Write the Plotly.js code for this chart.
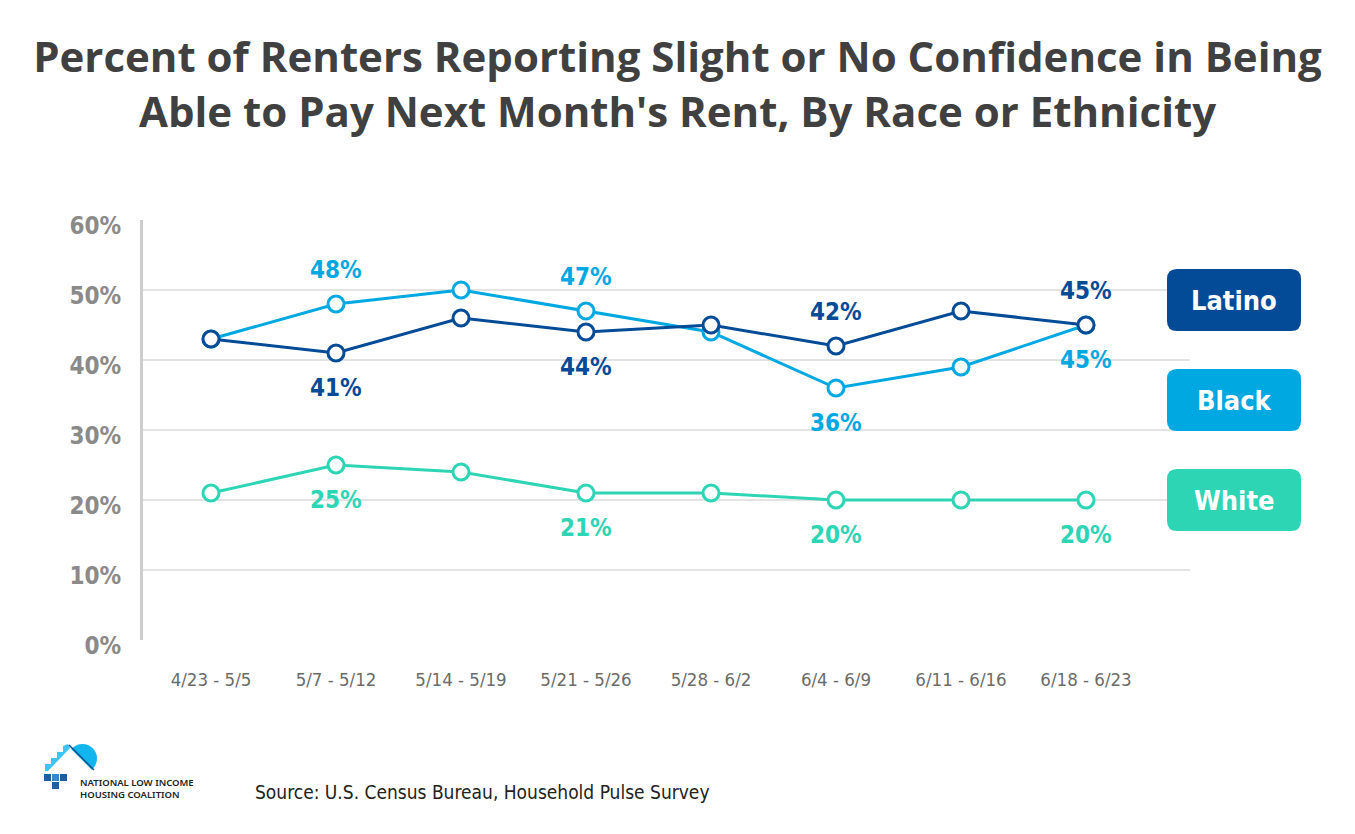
<!DOCTYPE html>
<html><head><meta charset="utf-8">
<script src="https://cdn.plot.ly/plotly-3.0.1.min.js"></script>
<style>html,body{margin:0;padding:0;background:#fff}#chart{width:1355px;height:834px}</style>
</head><body><div id="chart"></div>
<script>
// ---- data ----
const periods = ['4/23 - 5/5','5/7 - 5/12','5/14 - 5/19','5/21 - 5/26','5/28 - 6/2','6/4 - 6/9','6/11 - 6/16','6/18 - 6/23'];
const latino = [43,41,46,44,45,42,47,45];
const black  = [43,48,50,47,44,36,39,45];
const white  = [21,25,24,21,21,20,20,20];
const latinoLabelIdx = [1,3,5,7];
const latinoLabelSide = ['below','below','above','above'];
const blackLabelIdx = [1,3,5,7];
const blackLabelSide = ['above','above','below','below'];
const whiteLabelIdx = [1,3,5,7];
const whiteLabelSide = ['below','below','below','below'];
const seriesNames = ['Latino','Black','White'];
const yTicks = [0,10,20,30,40,50,60];
const titleText = "Percent of Renters Reporting Slight or No Confidence in Being<br>Able to Pay Next Month's Rent, By Race or Ethnicity";
const sourceText = 'Source: U.S. Census Bureau, Household Pulse Survey';
const logoLines = ['NATIONAL LOW INCOME','HOUSING COALITION'];

// ---- styling ----
const colors = {Latino:'#034b97', Black:'#00a8e1', White:'#2ed5b5'};
const NARROW = "'Liberation Sans Narrow', 'DejaVu Sans Condensed', 'Arial Narrow', sans-serif";
const W = 1355, H = 834;
const M = {l:143, r:165, t:220, b:194};
const PW = W - M.l - M.r, PH = H - M.t - M.b;
const X = px => (px - M.l) / PW;
const Y = py => (H - M.b - py) / PH;
const P = (x,y) => X(x).toFixed(5) + ',' + Y(y).toFixed(5);

function roundRect(x0,y0,x1,y1,r){
  return 'M' + P(x0+r,y0) + ' L' + P(x1-r,y0) + ' Q' + P(x1,y0) + ' ' + P(x1,y0+r) +
    ' L' + P(x1,y1-r) + ' Q' + P(x1,y1) + ' ' + P(x1-r,y1) +
    ' L' + P(x0+r,y1) + ' Q' + P(x0,y1) + ' ' + P(x0,y1-r) +
    ' L' + P(x0,y0+r) + ' Q' + P(x0,y0) + ' ' + P(x0+r,y0) + ' Z';
}
function poly(pts){ return 'M' + pts.map(p => P(p[0],p[1])).join(' L') + ' Z'; }

const series = [
  {name:'White', y:white, idx:whiteLabelIdx, side:whiteLabelSide},
  {name:'Black', y:black, idx:blackLabelIdx, side:blackLabelSide},
  {name:'Latino', y:latino, idx:latinoLabelIdx, side:latinoLabelSide}
];

const traces = series.map(s => ({
  type:'scatter', mode:'lines+markers', name:s.name,
  x:periods, y:s.y,
  line:{color:colors[s.name], width:3},
  marker:{symbol:'circle', size:16, color:'#ffffff', line:{color:colors[s.name], width:3}},
  cliponaxis:false, hoverinfo:'skip'
}));

const annotations = [];
series.forEach(s => {
  s.idx.forEach((i,k) => {
    annotations.push({
      x:periods[i], y:s.y[i], xref:'x', yref:'y',
      text:s.y[i] + '%', showarrow:false,
      yshift: s.side[k] === 'above' ? 34 : -35,
      font:{family:NARROW, size:24, color:colors[s.name], weight:'bold'}
    });
  });
});

// legend boxes
const shapes = [];
const boxTops = [269, 369, 469];
seriesNames.forEach((n,k) => {
  const y0 = boxTops[k];
  shapes.push({type:'path', xref:'paper', yref:'paper', layer:'above',
    path: roundRect(1167, y0, 1301, y0+62, 10),
    fillcolor:colors[n], line:{width:0}});
  annotations.push({xref:'paper', yref:'paper', x:X(1234), y:Y(y0+31), xanchor:'center', yanchor:'middle',
    text:n, showarrow:false, font:{family:NARROW, size:27, color:'#ffffff', weight:'bold'}});
});

// logo
shapes.push({type:'circle', xref:'paper', yref:'paper', layer:'above',
  x0:X(68), x1:X(97), y0:Y(773), y1:Y(744), fillcolor:'#12b5ee', line:{width:0}});
shapes.push({type:'path', xref:'paper', yref:'paper', layer:'above',
  path: poly([[68,746],[98,776],[98,792],[40,792],[40,770]]), fillcolor:'#ffffff', line:{width:0}});
shapes.push({type:'path', xref:'paper', yref:'paper', layer:'above',
  path: poly([[45,771],[45,764],[51,764],[51,758],[57,758],[57,752],[63,752],[63,746],[68,744],[70,748],[48,771]]),
  fillcolor:'#3cc4f2', line:{width:0}});
shapes.push({type:'line', xref:'paper', yref:'paper', layer:'above',
  x0:X(69), y0:Y(745), x1:X(94), y1:Y(770), line:{color:'#0d4f8f', width:1.5}});
[[44,774,'#1c5fa3'],[52,774,'#3b86c9'],[52,782,'#1c5fa3'],[60,774,'#1c5fa3']].forEach(q => {
  shapes.push({type:'rect', xref:'paper', yref:'paper', layer:'above',
    x0:X(q[0]), x1:X(q[0]+7), y0:Y(q[1]+7), y1:Y(q[1]), fillcolor:q[2], line:{width:0}});
});
logoLines.forEach((t,k) => {
  annotations.push({xref:'paper', yref:'paper', x:X(78), y:Y(782.5 + k*11.5), xanchor:'left', yanchor:'middle',
    text:t, showarrow:false, font:{family:"'Noto Sans', sans-serif", size:9.5, color:'#222222', weight:600}});
});
annotations.push({xref:'paper', yref:'paper', x:X(253), y:Y(792), xanchor:'left', yanchor:'middle',
  text:sourceText, showarrow:false, font:{family:NARROW, size:19, color:'#222222'}});

const layout = {
  width:W, height:H,
  margin:{l:M.l, r:M.r, t:M.t, b:M.b, pad:0},
  paper_bgcolor:'#ffffff', plot_bgcolor:'#ffffff',
  showlegend:false, hovermode:false,
  title:{text:titleText, x:0.5, xanchor:'center', xref:'container', y:1 - 72/H, yanchor:'middle', yref:'container',
    font:{family:"'Open Sans', Lato, sans-serif", size:42, color:'#404040', weight:'bold'}},
  xaxis:{type:'category', range:[-0.544, 7.832], showgrid:false, zeroline:false, showline:false, ticks:'',
    tickfont:{family:NARROW, size:18.5, color:'#6b6b6b'}, ticklabelstandoff:26, fixedrange:true},
  yaxis:{range:[0,60], tickvals:yTicks, ticktext:yTicks.map(v => v + '%'), showgrid:true, gridcolor:'#e3e3e3', gridwidth:2,
    zeroline:false, showline:true, linecolor:'#cdcdcd', linewidth:3, ticks:'',
    tickfont:{family:NARROW, size:24, color:'#8a8a8a', weight:'bold'}, ticklabelstandoff:14, ticklabelshift:6, fixedrange:true},
  shapes:shapes, annotations:annotations
};

Plotly.newPlot('chart', traces, layout, {displayModeBar:false, staticPlot:true});
</script>
</body></html>
